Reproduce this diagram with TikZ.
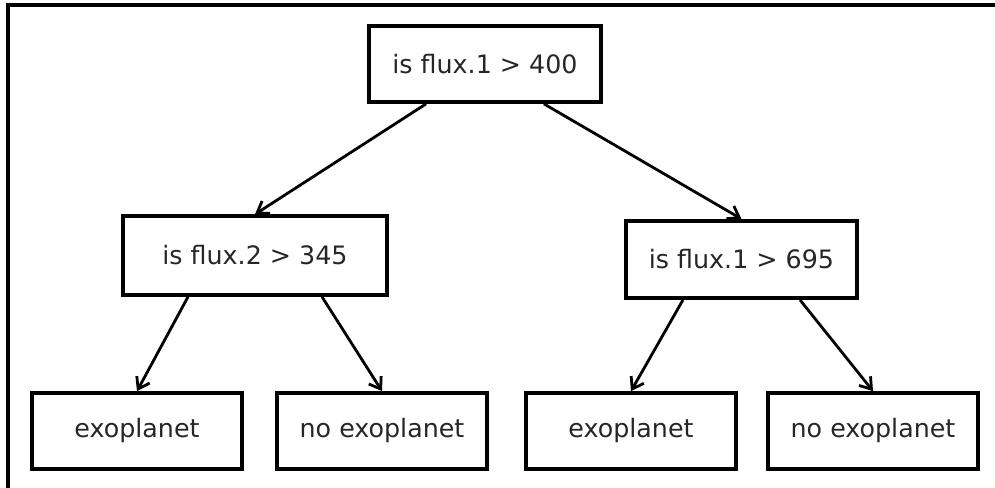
\documentclass[tikz,border=0pt]{standalone}
\usepackage{fontspec}
\setmainfont{DejaVu Sans}
\usetikzlibrary{arrows.meta,calc}
\begin{document}
\begin{tikzpicture}[x=0.75pt,y=-0.75pt,
  box/.style={draw,line width=2.8pt,minimum width=#1,inner sep=0pt,text=black!85,font=\fontsize{19}{21}\selectfont},
  edge/.style={line width=2.1pt,-{Straight Barb[length=8pt,width=11pt,line width=2.1pt]}}]
\useasboundingbox (0,0) rectangle (995,488);
% frame along the top and left edges
\draw[line width=2.4pt] (8,500) -- (8,5) -- (1000,5);
% decision nodes
\node[box=174pt,minimum height=57pt] (root) at (485,64) {is flux.1 > 400};
\node[box=198pt,minimum height=59pt] (l) at (255,255.5) {is flux.2 > 345};
\node[box=173pt,minimum height=58pt] (r) at (741.5,259.5) {is flux.1 > 695};
% leaves
\node[box=157pt,minimum height=57pt] (l1) at (137,431) {exoplanet};
\node[box=157pt,minimum height=57pt] (l2) at (382,431) {no exoplanet};
\node[box=157pt,minimum height=57pt] (r1) at (631,431) {exoplanet};
\node[box=157pt,minimum height=57pt] (r2) at (873,431) {no exoplanet};
% connectors
\draw[edge] ($(root.south west)!0.25!(root.south east)$) -- (l.north);
\draw[edge] ($(root.south west)!0.75!(root.south east)$) -- (r.north);
\draw[edge] ($(l.south west)!0.25!(l.south east)$) -- (l1.north);
\draw[edge] ($(l.south west)!0.75!(l.south east)$) -- (l2.north);
\draw[edge] ($(r.south west)!0.25!(r.south east)$) -- (r1.north);
\draw[edge] ($(r.south west)!0.75!(r.south east)$) -- (r2.north);
\end{tikzpicture}
\end{document}
